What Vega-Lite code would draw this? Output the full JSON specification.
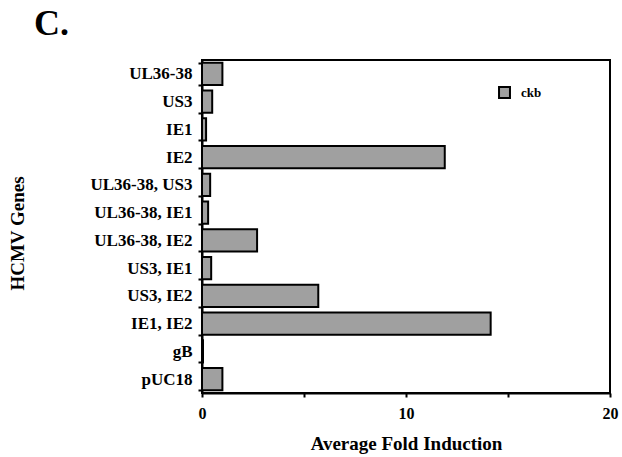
{
  "$schema": "https://vega.github.io/schema/vega-lite/v6.json",
  "width": 408,
  "height": 333,
  "autosize": {"type": "none"},
  "padding": {"left": 202, "top": 60, "right": 12, "bottom": 64},
  "background": "white",
  "title": {
    "text": "C.",
    "anchor": "start",
    "frame": "group",
    "dx": -168,
    "offset": 8,
    "font": "Liberation Serif",
    "fontSize": 36,
    "fontWeight": "bold",
    "color": "black"
  },
  "data": {
    "values": [
      {"gene": "UL36-38", "fold": 1.0, "series": "ckb"},
      {"gene": "US3", "fold": 0.5, "series": "ckb"},
      {"gene": "IE1", "fold": 0.2, "series": "ckb"},
      {"gene": "IE2", "fold": 11.9, "series": "ckb"},
      {"gene": "UL36-38, US3", "fold": 0.4, "series": "ckb"},
      {"gene": "UL36-38, IE1", "fold": 0.3, "series": "ckb"},
      {"gene": "UL36-38, IE2", "fold": 2.7, "series": "ckb"},
      {"gene": "US3, IE1", "fold": 0.45, "series": "ckb"},
      {"gene": "US3, IE2", "fold": 5.7, "series": "ckb"},
      {"gene": "IE1, IE2", "fold": 14.15, "series": "ckb"},
      {"gene": "gB", "fold": 0.05, "series": "ckb"},
      {"gene": "pUC18", "fold": 1.0, "series": "ckb"}
    ]
  },
  "mark": {"type": "bar", "stroke": "black", "strokeWidth": 2},
  "encoding": {
    "y": {
      "field": "gene",
      "type": "nominal",
      "sort": null,
      "scale": {"paddingInner": 0.2, "paddingOuter": 0.1},
      "axis": {
        "title": "HCMV Genes",
        "titleX": -175,
        "titleY": 173,
        "titleFont": "Liberation Serif",
        "titleFontSize": 19,
        "titleFontWeight": "bold",
        "titleColor": "black",
        "labelFont": "Liberation Serif",
        "labelFontSize": 17,
        "labelFontWeight": "bold",
        "labelColor": "black",
        "labelPadding": 6,
        "tickBand": "extent",
        "tickSize": 4,
        "tickWidth": 2,
        "tickColor": "black",
        "domainColor": "black",
        "domainWidth": 2
      }
    },
    "x": {
      "field": "fold",
      "type": "quantitative",
      "scale": {"domain": [0, 20], "nice": false},
      "axis": {
        "title": "Average Fold Induction",
        "values": [0, 5, 10, 15, 20],
        "labelExpr": "datum.value % 10 === 0 ? datum.label : ''",
        "titleFont": "Liberation Serif",
        "titleFontSize": 19,
        "titleFontWeight": "bold",
        "titleColor": "black",
        "titlePadding": 13,
        "labelFont": "Liberation Serif",
        "labelFontSize": 16,
        "labelFontWeight": "bold",
        "labelColor": "black",
        "labelPadding": 8,
        "labelFlush": false,
        "tickSize": 4,
        "tickWidth": 2,
        "tickColor": "black",
        "domainColor": "black",
        "domainWidth": 2,
        "grid": false
      }
    },
    "fill": {
      "field": "series",
      "type": "nominal",
      "scale": {"range": ["#a0a0a0"]},
      "legend": {
        "title": null,
        "orient": "none",
        "legendX": 296,
        "legendY": 26,
        "symbolType": "square",
        "symbolSize": 120,
        "symbolStrokeColor": "black",
        "symbolStrokeWidth": 2,
        "labelFont": "Liberation Serif",
        "labelFontSize": 13,
        "labelFontWeight": "bold",
        "labelColor": "black",
        "labelOffset": 10
      }
    }
  },
  "config": {
    "view": {"stroke": "black", "strokeWidth": 2},
    "axis": {"grid": false}
  }
}
